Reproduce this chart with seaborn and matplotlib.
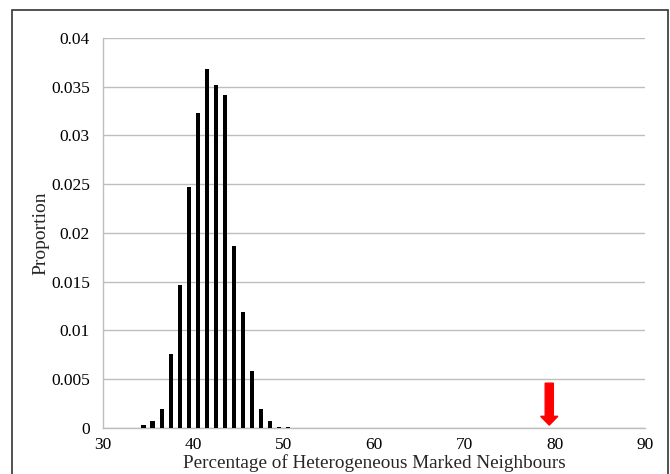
import numpy as np
import pandas as pd
import matplotlib
matplotlib.use("Agg")
import matplotlib.pyplot as plt
from matplotlib.patches import Rectangle
from matplotlib.ticker import FuncFormatter, MultipleLocator
import seaborn as sns

# bin centres (% heterogeneous marked neighbours) and proportions
pct = [34.5, 35.5, 36.5, 37.5, 38.5, 39.5, 40.5, 41.5, 42.5,
       43.5, 44.5, 45.5, 46.5, 47.5, 48.5, 49.5, 50.5]
proportion = [0.00027, 0.00072, 0.0020, 0.00755, 0.0147, 0.0247, 0.0323, 0.0368, 0.0352,
              0.0341, 0.0187, 0.0119, 0.0058, 0.0019, 0.0007, 0.0001, 0.0001]
observed = 79.4  # red arrow

df = pd.DataFrame({"pct": pct, "proportion": proportion})

sns.set_style("white")
plt.rcParams["font.family"] = ["Liberation Serif", "DejaVu Serif"]

fig = plt.figure(figsize=(6.7, 4.74), dpi=100)
ax = fig.add_axes([0.1537, 0.097, 0.809, 0.823])

sns.barplot(data=df, x="pct", y="proportion", native_scale=True,
            color="black", width=0.48, linewidth=0, ax=ax, zorder=3)

# observed value marker
ax.arrow(observed, 0.0046, 0, -0.0043, width=0.9, head_width=1.9,
         head_length=0.0009, length_includes_head=True,
         color="#FF0000", zorder=4)

ax.set_xlim(30, 90)
ax.set_ylim(0, 0.04)
ax.xaxis.set_major_locator(MultipleLocator(10))
ax.yaxis.set_major_locator(MultipleLocator(0.005))
ax.yaxis.set_major_formatter(FuncFormatter(lambda v, p: f"{v:g}"))
ax.grid(axis="y", color="#BEBEBE", linewidth=1)
ax.set_axisbelow(True)

for s in ["top", "right"]:
    ax.spines[s].set_visible(False)
for s in ["left", "bottom"]:
    ax.spines[s].set_color("#BEBEBE")
    ax.spines[s].set_linewidth(1)
ax.tick_params(axis="both", direction="out", length=4.5, color="#BEBEBE",
               labelsize=12.5, labelcolor="black")
ax.tick_params(axis="x", pad=2)
ax.tick_params(axis="y", pad=5)

ax.set_xlabel("Percentage of Heterogeneous Marked Neighbours", fontsize=13.8, labelpad=1)
ax.set_ylabel("Proportion", fontsize=14, labelpad=1)

# outer chart frame
fig.patches.append(Rectangle((12 / 670, -0.05), 656 / 670, 1.05 - 10 / 474,
                             transform=fig.transFigure, fill=False,
                             edgecolor="#333333", linewidth=1.2))

fig.savefig("out.png", dpi=100)
